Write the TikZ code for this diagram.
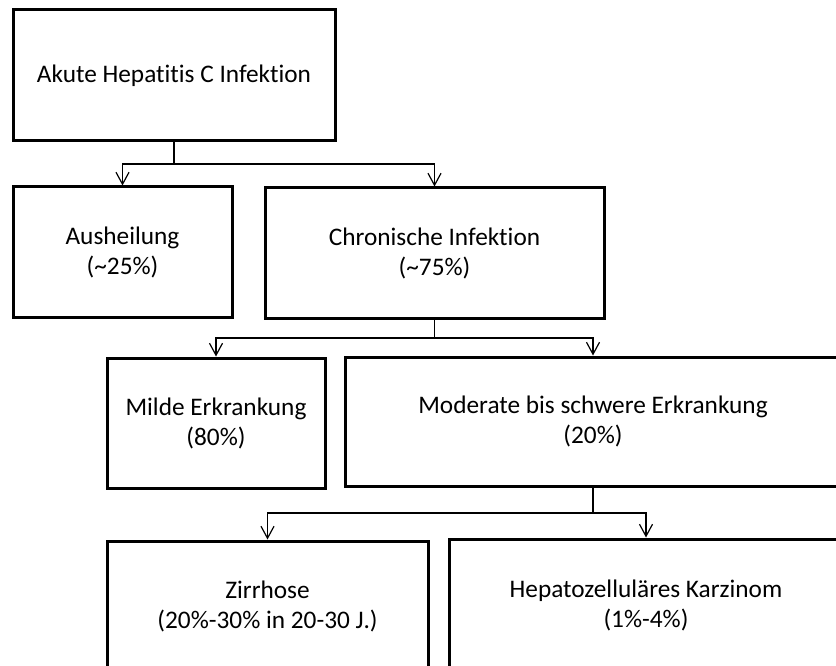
\documentclass[tikz,border=0pt]{standalone}
\usepackage{fontspec}
\setmainfont{Carlito}[Ligatures=NoCommon]
\usetikzlibrary{arrows.meta}

\begin{document}
\begin{tikzpicture}[x=1pt, y=-1pt, every node/.style={font=\fontsize{25.3}{30}\selectfont, align=center}]
  \tikzstyle{box}=[draw, line width=3pt, inner sep=0pt]
  \tikzstyle{edge}=[-{Straight Barb[length=12pt, width=13pt, line width=1.2pt]}, line width=1.2pt]
  \useasboundingbox[fill=white] (0,0) rectangle (836,666);
  \node[box, minimum width=322pt, minimum height=131pt] (akut) at (174, 75.5) {Akute Hepatitis C Infektion};
  \node[box, minimum width=219pt, minimum height=130pt] (aus) at (122.5, 252) {Ausheilung\\(\textasciitilde25\%)};
  \node[box, minimum width=339pt, minimum height=130pt] (chron) at (434.5, 253) {Chronische Infektion\\(\textasciitilde75\%)};
  \node[box, minimum width=218pt, minimum height=130pt] (milde) at (216, 423) {Milde Erkrankung\\(80\%)};
  \node[box, minimum width=496pt, minimum height=129pt] (mod) at (593, 421.5) {Moderate bis schwere Erkrankung\\(20\%)};
  \node[box, minimum width=321pt, minimum height=130pt] (zirr) at (267.5, 606) {Zirrhose\\(20\%-30\% in 20-30 J.)};
  \node[box, minimum width=394pt, minimum height=132pt] (hcc) at (646, 605) {Hepatozelluläres Karzinom\\(1\%-4\%)};
  \coordinate (j1) at (174, 164);
  \coordinate (j2) at (434.5, 338);
  \coordinate (j3) at (593, 513);
  \foreach \from/\via/\to in {akut/j1/aus, akut/j1/chron, chron/j2/milde, chron/j2/mod, mod/j3/zirr, mod/j3/hcc}
    \draw[edge] (\from.south) -- (\via) -| (\to.north);
\end{tikzpicture}
\end{document}
